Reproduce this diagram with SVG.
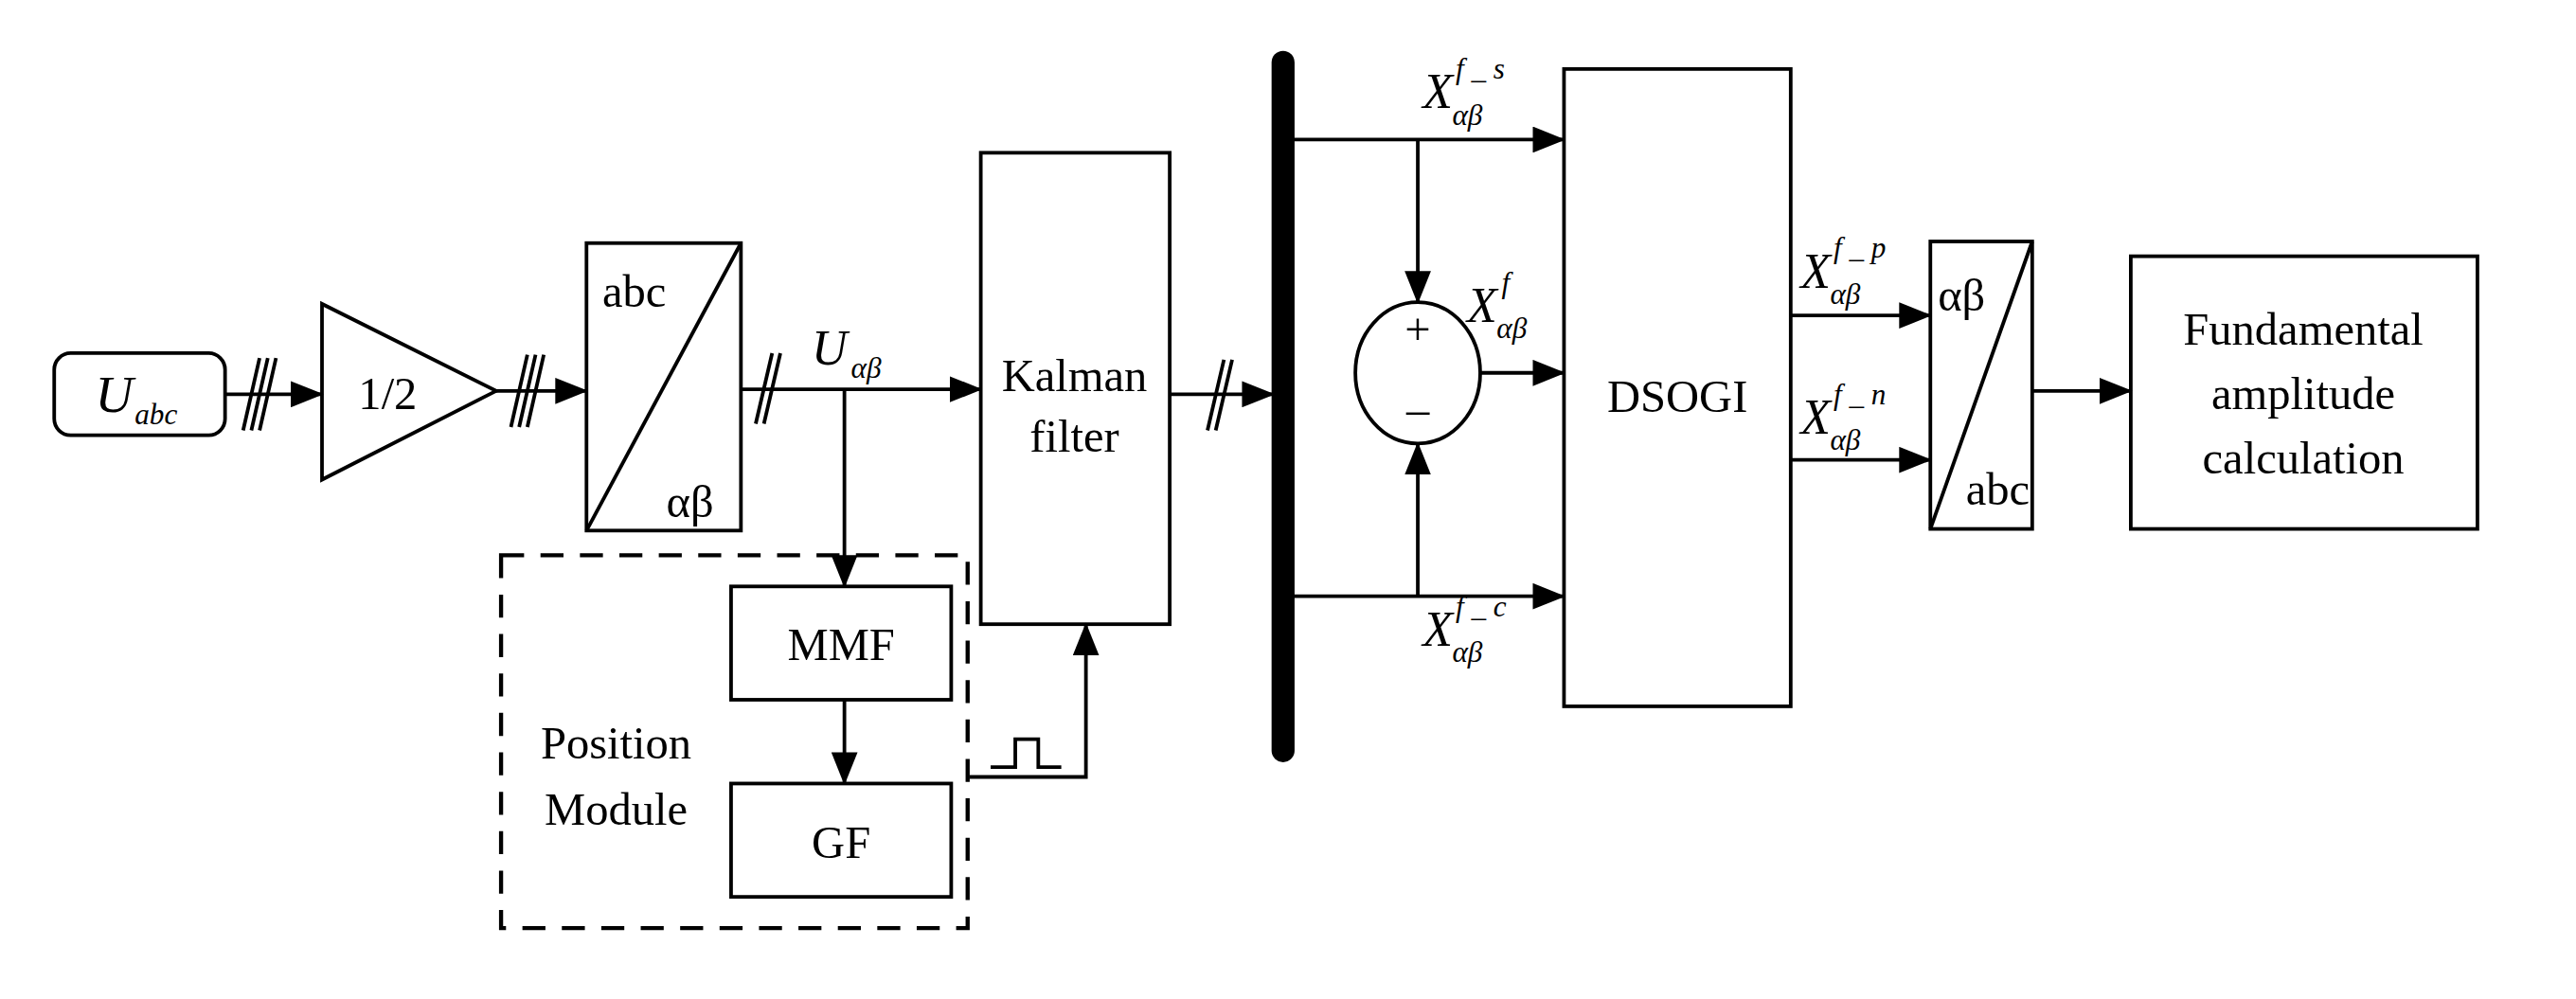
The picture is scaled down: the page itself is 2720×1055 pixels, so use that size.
<svg xmlns="http://www.w3.org/2000/svg" width="2720" height="1055" viewBox="0 0 2720 1055">
<style>
.s{fill:none;stroke:#000;stroke-width:2.2}
.t{font-family:'Liberation Serif','DejaVu Serif','Times New Roman',serif;font-size:28px;fill:#000;text-anchor:middle}
.i{font-family:'Liberation Serif','DejaVu Serif','Times New Roman',serif;font-style:italic;fill:#000}
</style>
<defs>
<marker id="a" markerUnits="userSpaceOnUse" markerWidth="20" markerHeight="16" refX="19" refY="8" orient="auto"><path d="M0,0 L20,8 L0,16 Z" fill="#000"/></marker>
</defs>
<rect width="2720" height="1055" fill="#fff"/>
<g transform="scale(1.7347)">
<g id="uabc"><rect class="s" x="33" y="215" width="104" height="50" rx="10" stroke-width="2.8"/>
<text class="i" x="58" y="251" font-size="32">U</text><text class="i" x="82" y="258" font-size="18">abc</text></g>
<g id="gain"><path class="s" d="M196,185 L196,292 L302,238 Z" stroke-width="2.5"/><text class="t" x="236" y="249" font-size="30">1/2</text></g>
<g id="abc2ab"><rect class="s" x="357" y="148" width="94" height="175" stroke-width="2.5"/><path class="s" d="M357,323 L451,148"/>
<text class="t" x="386" y="187" font-size="30">abc</text><text class="t" x="420" y="315" font-size="30">αβ</text></g>
<g id="kalman"><rect class="s" x="597" y="93" width="115" height="287"/><text class="t" x="654" y="238" font-size="30">Kalman</text><text class="t" x="654" y="275" font-size="30">filter</text></g>
<g id="pos"><rect x="305" y="338" width="284" height="227" fill="none" stroke="#000" stroke-width="2.5" stroke-dasharray="14,10"/>
<text class="t" x="375" y="462" font-size="30">Position</text><text class="t" x="375" y="502" font-size="30">Module</text></g>
<g id="mmf"><rect class="s" x="445" y="357" width="134" height="69"/><text class="t" x="512" y="402" font-size="30">MMF</text></g>
<g id="gf"><rect class="s" x="445" y="477" width="134" height="69"/><text class="t" x="512" y="522" font-size="30">GF</text></g>
<g id="bus"><line x1="781" y1="38" x2="781" y2="457" stroke="#000" stroke-width="14" stroke-linecap="round"/></g>
<g id="sum"><ellipse class="s" cx="863" cy="227" rx="38" ry="43"/><text class="t" x="863" y="210" font-size="14">+</text><text class="t" x="863" y="258" font-size="14">–</text></g>
<g id="dsogi"><rect class="s" x="952" y="42" width="138" height="388"/><text class="t" x="1021" y="251" font-size="30">DSOGI</text></g>
<g id="ab2abc"><rect class="s" x="1175" y="147" width="62" height="175"/><path class="s" d="M1175,322 L1237,147"/>
<text class="t" x="1194" y="189" font-size="30">αβ</text><text class="t" x="1216" y="307" font-size="30">abc</text></g>
<g id="fund"><rect class="s" x="1297" y="156" width="211" height="166"/><text class="t" x="1402" y="210" font-size="30">Fundamental</text><text class="t" x="1402" y="249" font-size="30">amplitude</text><text class="t" x="1402" y="288" font-size="30">calculation</text></g>
<g id="connectors">
<line class="s" x1="137" y1="240" x2="196" y2="240" marker-end="url(#a)"/>
<path class="s" d="M148,262 L158,218 M153,262 L163,218 M158,262 L168,218"/>
<line class="s" x1="302" y1="238" x2="357" y2="238" marker-end="url(#a)"/>
<path class="s" d="M311,260 L321,216 M316,260 L326,216 M321,260 L331,216"/>
<line class="s" x1="451" y1="237" x2="597" y2="237" marker-end="url(#a)"/>
<path class="s" d="M460,258 L470,215 M465,258 L475,215"/>
<text class="i" x="494" y="222" font-size="30">U</text><text class="i" x="518" y="230" font-size="18">αβ</text>
<line class="s" x1="514" y1="237" x2="514" y2="357" marker-end="url(#a)"/>
<line class="s" x1="514" y1="426" x2="514" y2="477" marker-end="url(#a)"/>
<path class="s" d="M590,473 L661,473 L661,380" marker-end="url(#a)"/>
<path class="s" d="M603,467 L618,467 L618,450 L632,450 L632,467 L646,467"/>
<line class="s" x1="712" y1="240" x2="775" y2="240" marker-end="url(#a)"/>
<path class="s" d="M735,262 L745,219 M740,262 L750,219"/>
<line class="s" x1="781" y1="85" x2="952" y2="85" marker-end="url(#a)"/>
<line class="s" x1="781" y1="363" x2="952" y2="363" marker-end="url(#a)"/>
<line class="s" x1="863" y1="85" x2="863" y2="184" marker-end="url(#a)"/>
<line class="s" x1="863" y1="363" x2="863" y2="270" marker-end="url(#a)"/>
<line class="s" x1="901" y1="227" x2="952" y2="227" marker-end="url(#a)"/>
<line class="s" x1="1090" y1="192" x2="1175" y2="192" marker-end="url(#a)"/>
<line class="s" x1="1090" y1="280" x2="1175" y2="280" marker-end="url(#a)"/>
<line class="s" x1="1237" y1="238" x2="1297" y2="238" marker-end="url(#a)"/>
<text class="i" x="866" y="66" font-size="30">X</text><text class="i" x="886" y="48" font-size="18">f _ s</text><text class="i" x="884" y="76" font-size="18">αβ</text>
<text class="i" x="866" y="393" font-size="30">X</text><text class="i" x="886" y="375" font-size="18">f _ c</text><text class="i" x="884" y="403" font-size="18">αβ</text>
<text class="i" x="893" y="196" font-size="30">X</text><text class="i" x="914" y="178" font-size="18">f</text><text class="i" x="911" y="206" font-size="18">αβ</text>
<text class="i" x="1096" y="175" font-size="30">X</text><text class="i" x="1116" y="157" font-size="18">f _ p</text><text class="i" x="1114" y="185" font-size="18">αβ</text>
<text class="i" x="1096" y="264" font-size="30">X</text><text class="i" x="1116" y="246" font-size="18">f _ n</text><text class="i" x="1114" y="274" font-size="18">αβ</text>
</g>
</g>
</svg>
